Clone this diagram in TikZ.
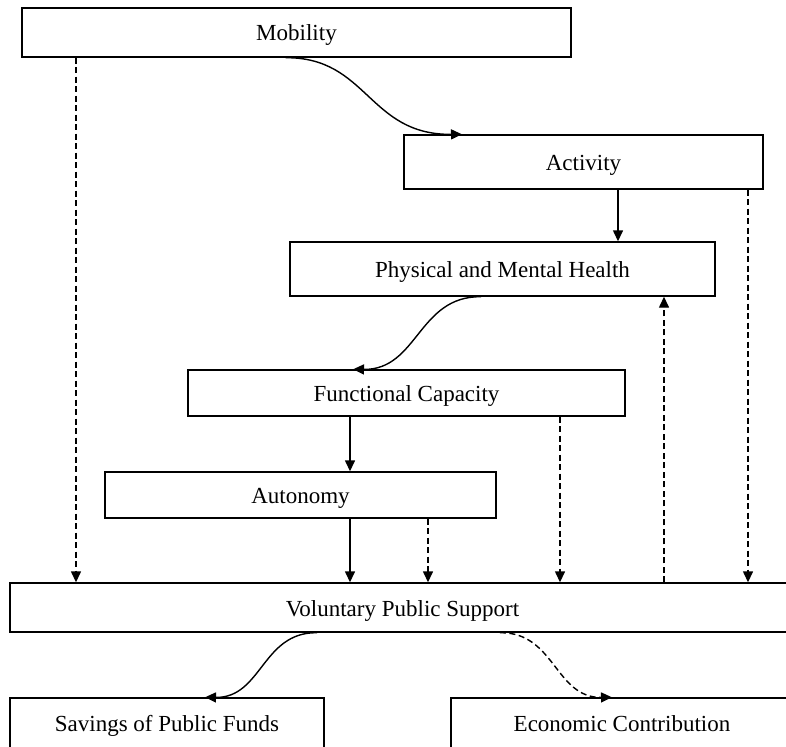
\documentclass[tikz,border=0pt]{standalone}
\usepackage{fontspec}
\setmainfont{Liberation Serif}
\usetikzlibrary{arrows.meta}
\begin{document}
\begin{tikzpicture}[x=1pt,y=-1pt,
  box/.style={draw,line width=1.4pt,rectangle,inner sep=0pt,text height=20pt,text depth=3pt,font=\fontsize{23}{26}\selectfont},
  arr/.style={line width=1.4pt,-{Triangle[length=11pt,width=10pt]}},
  darr/.style={arr,dash pattern=on 6pt off 3.5pt}]
\useasboundingbox (0,0) rectangle (786,746);
\node[box,minimum width=549pt,minimum height=49pt] (mob) at (296.5,32.5) {Mobility};
\node[box,minimum width=359pt,minimum height=54pt] (act) at (583.5,162) {Activity};
\node[box,minimum width=425pt,minimum height=54pt] (phys) at (502.5,269) {Physical and Mental Health};
\node[box,minimum width=437pt,minimum height=46pt] (func) at (406.5,393) {Functional Capacity};
\node[box,minimum width=391pt,minimum height=46pt] (aut) at (300.5,495) {Autonomy};
\node[box,minimum width=785pt,minimum height=49pt] (vps) at (402.5,607.5) {Voluntary Public Support};
\node[box,minimum width=314pt,minimum height=50pt] (sav) at (167,723) {Savings of Public Funds};
\node[box,minimum width=342pt,minimum height=50pt] (eco) at (622,723) {Economic Contribution};
\coordinate (c1) at (76,0);
\coordinate (c2) at (350,0);
\coordinate (c3) at (428,0);
\coordinate (c4) at (560,0);
\coordinate (c5) at (618,0);
\coordinate (c6) at (664,0);
\coordinate (c7) at (748,0);
\draw[arr] ([xshift=-11pt]mob.south) .. controls (368,57) and (368,135) .. ([xshift=-121.5pt]act.north);
\draw[arr] (act.south -| c5) -- (phys.north -| c5);
\draw[darr] (act.south -| c7) -- (vps.north -| c7);
\draw[darr] (vps.north -| c6) -- (phys.south -| c6);
\draw[arr] ([xshift=-21.5pt]phys.south) .. controls (418,296) and (418,370) .. ([xshift=-53.5pt]func.north);
\draw[arr] (func.south -| c2) -- (aut.north -| c2);
\draw[darr] (func.south -| c4) -- (vps.north -| c4);
\draw[arr] (aut.south -| c2) -- (vps.north -| c2);
\draw[darr] (aut.south -| c3) -- (vps.north -| c3);
\draw[darr] (mob.south -| c1) -- (vps.north -| c1);
\draw[arr] ([xshift=-85.5pt]vps.south) .. controls (262,632) and (262,698) .. ([xshift=38pt]sav.north);
\draw[darr] ([xshift=97.5pt]vps.south) .. controls (555,632) and (555,698) .. ([xshift=-10pt]eco.north);
\end{tikzpicture}
\end{document}
